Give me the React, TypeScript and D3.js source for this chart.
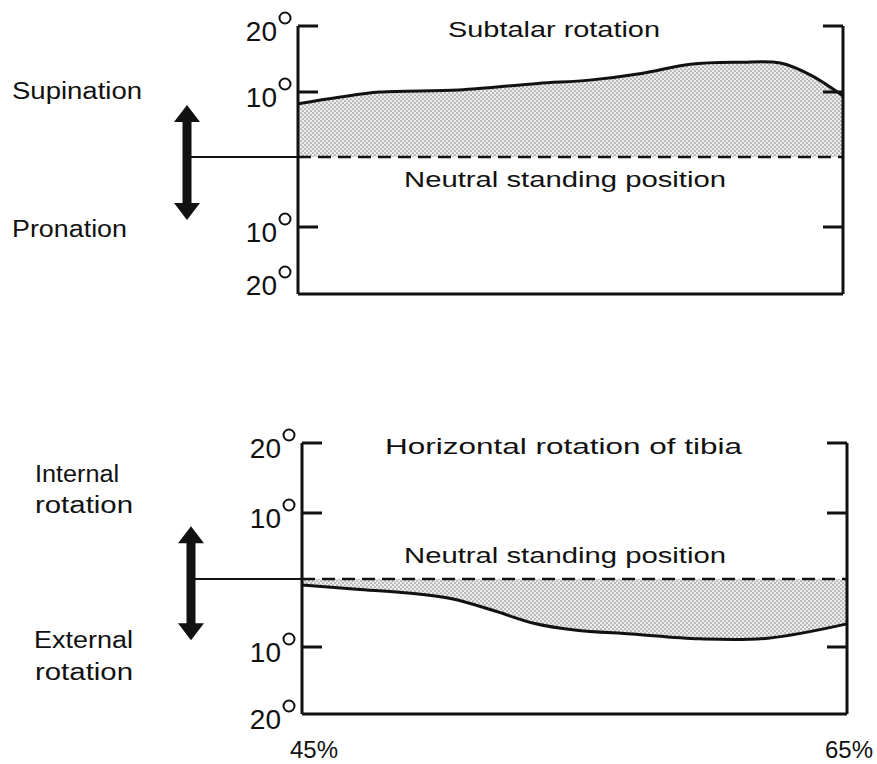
import React from "react";
import * as d3 from "d3";

// subtalar rotation (degrees, + = supination) vs % of gait cycle
const subtalarPct = [45, 46.5, 48, 50.9, 53.8, 55.7, 57.6, 59.4, 61.2, 62.7, 63.8, 65];
const subtalarDeg = [8.2, 9.2, 10.0, 10.3, 11.3, 11.8, 12.8, 14.2, 14.5, 14.4, 12.6, 9.4];

// horizontal rotation of tibia (degrees, + = internal)
const tibiaPct = [45, 47, 49, 50.5, 52, 53.5, 55, 57.1, 59.6, 62.1, 65];
const tibiaDeg = [-0.9, -1.5, -2.1, -2.9, -4.6, -6.5, -7.5, -8.1, -8.8, -8.7, -6.6];

const yTicks = [20, 10, -10, -20];
const yTickLabels = ["20", "10", "10", "20"];
const rightTicks = [20, 10, -10];
const xDomain = [45, 65];
const xTickLabels = ["45%", "65%"];
const arrowSpan = [8, -9];

const FONT = "'Liberation Sans', Arial, sans-serif";

const Panel = ({ pct, deg, xRange, yRange, title, neutralDy, sideLabels, lowLabelDy, showX }) => {
  const x = d3.scaleLinear().domain(xDomain).range(xRange);
  const y = d3.scaleLinear().domain([-20, -10, 0, 10, 20]).range(yRange);
  const pts = pct.map((p, i) => [p, deg[i]]);

  const area = d3
    .area()
    .x((d) => x(d[0]))
    .y0(y(0))
    .y1((d) => y(d[1]))
    .curve(d3.curveCatmullRom.alpha(0.5));
  const line = d3
    .line()
    .x((d) => x(d[0]))
    .y((d) => y(d[1]))
    .curve(d3.curveCatmullRom.alpha(0.5));

  const x0 = x(45);
  const x1 = x(65);
  const ax = x0 - 111; // double arrow column
  const aTop = y(arrowSpan[0]);
  const aBot = y(arrowSpan[1]);
  const arrow = d3.path();
  arrow.moveTo(ax, aTop);
  arrow.lineTo(ax + 13, aTop + 17);
  arrow.lineTo(ax + 4.5, aTop + 17);
  arrow.lineTo(ax + 4.5, aBot - 17);
  arrow.lineTo(ax + 13, aBot - 17);
  arrow.lineTo(ax, aBot);
  arrow.lineTo(ax - 13, aBot - 17);
  arrow.lineTo(ax - 4.5, aBot - 17);
  arrow.lineTo(ax - 4.5, aTop + 17);
  arrow.lineTo(ax - 13, aTop + 17);
  arrow.closePath();

  return (
    <g>
      <path d={area(pts)} fill="url(#dots)" />
      <path d={line(pts)} fill="none" stroke="#111" strokeWidth={3} />

      {/* frame */}
      <line x1={x0} x2={x0} y1={y(20)} y2={y(-20)} stroke="#111" strokeWidth={3} />
      <line x1={x1} x2={x1} y1={y(20)} y2={y(-20)} stroke="#111" strokeWidth={3} />
      <line x1={x0} x2={x1} y1={y(-20)} y2={y(-20)} stroke="#111" strokeWidth={3} />
      {yTicks.slice(0, 3).map((t) => (
        <line key={"l" + t} x1={x0} x2={x0 + 20} y1={y(t)} y2={y(t)} stroke="#111" strokeWidth={3} />
      ))}
      {rightTicks.map((t) => (
        <line key={"r" + t} x1={x1 - 20} x2={x1} y1={y(t)} y2={y(t)} stroke="#111" strokeWidth={3} />
      ))}

      {/* neutral line */}
      <line x1={ax + 4} x2={x0} y1={y(0)} y2={y(0)} stroke="#111" strokeWidth={2} />
      <line x1={x0} x2={x1} y1={y(0)} y2={y(0)} stroke="#111" strokeWidth={2.5} strokeDasharray="13,7" />
      <path d={arrow.toString()} fill="#111" />

      {/* tick labels */}
      {yTicks.map((t, i) => {
        const base = i === yTicks.length - 1 ? y(t) + lowLabelDy : y(t) + 15;
        return (
          <g key={"t" + t}>
            <text x={x0 - 21} y={base} textAnchor="end" fontFamily={FONT} fontSize={28} fill="#111">
              {yTickLabels[i]}
            </text>
            <circle cx={x0 - 13} cy={base - 23} r={5.5} fill="none" stroke="#111" strokeWidth={2} />
          </g>
        );
      })}

      <text x={(title.from + title.to) / 2} y={y(20) + 11} textAnchor="middle" fontFamily={FONT} fontSize={22}
        textLength={title.to - title.from} lengthAdjust="spacingAndGlyphs" fill="#111">
        {title.text}
      </text>
      <text x={404} y={y(0) + neutralDy} fontFamily={FONT} fontSize={22} textLength={322}
        lengthAdjust="spacingAndGlyphs" fill="#111">
        Neutral standing position
      </text>

      {sideLabels.map((l, i) => (
        <text key={"s" + i} x={l.x} y={l.y} fontFamily={FONT} fontSize={23} textLength={l.w}
          lengthAdjust="spacingAndGlyphs" fill="#111">
          {l.text}
        </text>
      ))}

      {showX &&
        xTickLabels.map((s, i) => (
          <text key={s} x={i === 0 ? x(xDomain[0]) - 12 : x(xDomain[1]) + 26} y={y(-20) + 44}
            textAnchor={i === 0 ? "start" : "end"} fontFamily={FONT} fontSize={24} fill="#111">
            {s}
          </text>
        ))}
    </g>
  );
};

export default function App() {
  return (
    <svg width={877} height={764} style={{ position: "absolute", left: 0, top: 0, background: "#fff" }}>
      <defs>
        <pattern id="dots" width="4" height="4" patternUnits="userSpaceOnUse">
          <rect width="4" height="4" fill="#ededed" />
          <circle cx="1" cy="1" r="0.85" fill="#8c8c8c" />
          <circle cx="3" cy="3" r="0.85" fill="#8c8c8c" />
        </pattern>
      </defs>
      <rect width={877} height={764} fill="#fff" />
      <Panel
        pct={subtalarPct}
        deg={subtalarDeg}
        xRange={[298, 843]}
        yRange={[294, 227, 157, 92, 26]}
        title={{ text: "Subtalar rotation", from: 448, to: 660 }}
        neutralDy={30}
        sideLabels={[
          { text: "Supination", x: 12, y: 99, w: 130 },
          { text: "Pronation", x: 12, y: 237, w: 115 },
        ]}
        lowLabelDy={1}
        showX={false}
      />
      <Panel
        pct={tibiaPct}
        deg={tibiaDeg}
        xRange={[302, 847]}
        yRange={[714, 647, 579, 513, 443]}
        title={{ text: "Horizontal rotation  of tibia", from: 385, to: 742 }}
        neutralDy={-16}
        sideLabels={[
          { text: "Internal", x: 35, y: 482, w: 84 },
          { text: "rotation", x: 35, y: 513, w: 98 },
          { text: "External", x: 34, y: 648, w: 99 },
          { text: "rotation", x: 35, y: 680, w: 98 },
        ]}
        lowLabelDy={15}
        showX={true}
      />
    </svg>
  );
}
